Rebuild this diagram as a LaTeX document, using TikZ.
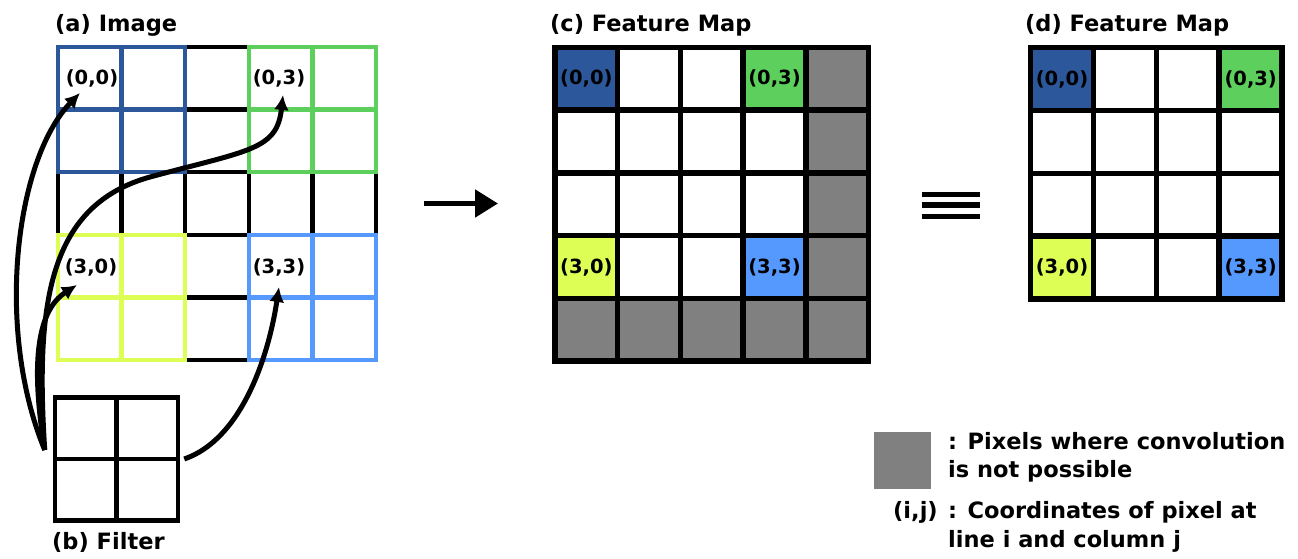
\documentclass[tikz,border=0pt]{standalone}
\usepackage{fontspec}
\setmainfont{DejaVu Sans}
\usepackage{tikz}
\usetikzlibrary{arrows.meta, positioning, calc}
\definecolor{patchA}{RGB}{44,87,154}
\definecolor{patchB}{RGB}{92,207,92}
\definecolor{patchC}{RGB}{221,255,85}
\definecolor{patchD}{RGB}{85,153,255}
\definecolor{nopix}{RGB}{128,128,128}

\begin{document}
\begin{tikzpicture}[
  x=1pt, y=-1pt,
  gline/.style={line width=4.5pt, line cap=rect},
  mline/.style={line width=5.5pt, line cap=rect},
  title/.style={anchor=base west, inner sep=0pt, font=\fontsize{22.5}{27}\selectfont\bfseries},
  lbl/.style={inner sep=0pt, font=\fontsize{19.5}{23}\selectfont\bfseries},
  legend/.style={anchor=base west, inner sep=0pt, font=\fontsize{22.5}{27}\selectfont\bfseries},
  carrow/.style={-{Latex[length=15pt,width=15pt]}, line width=5pt},
  bigarrow/.style={-{Triangle[length=23pt,width=27pt]}, line width=5pt}]

  \useasboundingbox (0,0) rectangle (1298,559);

  % (a) image with the four filter positions
  \foreach \k in {0,...,5} {
    \draw[gline] (58+\k*63.6,47) -- (58+\k*63.6,360);
    \draw[gline] (58,47+\k*62.6) -- (376,47+\k*62.6);
  }
  \foreach \clr/\i/\j in {patchA/0/0, patchB/3/0, patchC/0/3, patchD/3/3} {
    \draw[gline, draw=\clr] (58+\i*63.6,47+\j*62.6) rectangle ++(127.2,125.2);
    \draw[gline, draw=\clr] (58+\i*63.6+63.6,47+\j*62.6) -- ++(0,125.2);
    \draw[gline, draw=\clr] (58+\i*63.6,47+\j*62.6+62.6) -- ++(127.2,0);
  }
  \node[title] (ta) at (55,32) {(a) Image};
  \node[lbl] (a00) at (92,78) {(0,0)};
  \node[lbl] (a03) at (279,78) {(0,3)};
  \node[lbl] (a30) at (91,267) {(3,0)};
  \node[lbl] (a33) at (279,267) {(3,3)};

  % (b) filter
  \node[draw, line width=4.5pt, minimum size=123pt, inner sep=0pt] (filter) at (116.5,459) {};
  \draw[line width=4.5pt] (filter.north) -- (filter.south);
  \draw[line width=4.5pt] (filter.west) -- (filter.east);
  \node[title] (tb) at (52,549) {(b) Filter};
  \coordinate (fsrc) at ([shift={(-8,-9)}]filter.west);

  \draw[carrow] (fsrc) .. controls (-5,330) and (15,160) .. ([shift={(-12,6)}]a00.south);
  \draw[carrow] (fsrc) .. controls (35,300) and (50,205) .. (150,177)
                       .. controls (250,150) and (277,150) .. ([shift={(4,8)}]a03.south);
  \draw[carrow] (fsrc) .. controls (30,360) and (38,310) .. ([shift={(-14,9)}]a30.south);
  \draw[carrow] ([xshift=4]filter.east) .. controls (240,440) and (268,360) .. ([shift={(0,11)}]a33.south);

  % arrow between (a) and (c)
  \coordinate (arrS) at (424,203.5);
  \coordinate (arrE) at (498,203.5);
  \draw[bigarrow] (arrS) -- (arrE);

  % (c) feature map with padding cells
  \fill[nopix] (555+4*62.7,47.5) rectangle ++(62.7,313.5);
  \fill[nopix] (555,47.5+4*62.7) rectangle ++(313.5,62.7);
  \fill[patchA] (555,47.5) rectangle ++(62.7,62.7);
  \fill[patchB] (555+3*62.7,47.5) rectangle ++(62.7,62.7);
  \fill[patchC] (555,47.5+3*62.7) rectangle ++(62.7,62.7);
  \fill[patchD] (555+3*62.7,47.5+3*62.7) rectangle ++(62.7,62.7);
  \foreach \k in {0,...,5} {
    \draw[mline] (555+\k*62.7,47.5) -- (555+\k*62.7,361);
    \draw[mline] (555,47.5+\k*62.7) -- (868.5,47.5+\k*62.7);
  }
  \node[title] (tc) at (550,32) {(c) Feature Map};
  \node[lbl] (c00) at (586.4,78.9) {(0,0)};
  \node[lbl] (c03) at (774.5,78.9) {(0,3)};
  \node[lbl] (c30) at (586.4,267) {(3,0)};
  \node[lbl] (c33) at (774.5,267) {(3,3)};

  % equivalence sign
  \foreach \yy in {194.5,205.2,216.3}
    \fill (922,\yy-2.8) rectangle (980,\yy+2.8);

  % (d) feature map
  \fill[patchA] (1030.5,47.5) rectangle ++(62.9,62.9);
  \fill[patchB] (1030.5+3*62.9,47.5) rectangle ++(62.9,62.9);
  \fill[patchC] (1030.5,47.5+3*62.9) rectangle ++(62.9,62.9);
  \fill[patchD] (1030.5+3*62.9,47.5+3*62.9) rectangle ++(62.9,62.9);
  \foreach \k in {0,...,4} {
    \draw[mline] (1030.5+\k*62.9,47.5) -- (1030.5+\k*62.9,299);
    \draw[mline] (1030.5,47.5+\k*62.9) -- (1282,47.5+\k*62.9);
  }
  \node[title] (td) at (1025,32) {(d) Feature Map};
  \node[lbl] (d00) at (1062,79) {(0,0)};
  \node[lbl] (d03) at (1250.7,79) {(0,3)};
  \node[lbl] (d30) at (1062,267.7) {(3,0)};
  \node[lbl] (d33) at (1250.7,267.7) {(3,3)};

  % legend
  \node[fill=nopix, minimum size=57pt, inner sep=0pt] (legsq) at (902,460) {};
  \node[legend] (leg1) at (948,449) {: Pixels where convolution};
  \node[legend] (leg2) at (948,477) {is not possible};
  \node[legend] (legij) at (893,518) {(i,j)};
  \node[legend] (leg3) at (948,518) {: Coordinates of pixel at};
  \node[legend] (leg4) at (948,547) {line i and column j};
\end{tikzpicture}
\end{document}
